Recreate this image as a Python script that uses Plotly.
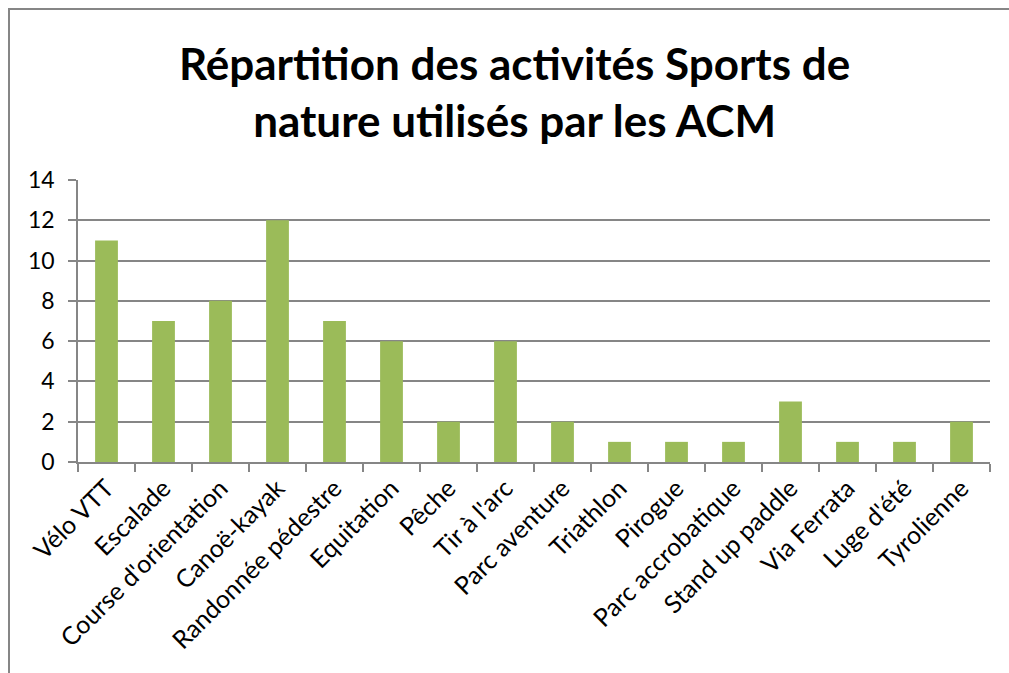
import plotly.graph_objects as go

# Activités de sports de nature et nombre d'ACM qui les utilisent
activites = [
    "Vélo VTT", "Escalade", "Course d'orientation", "Canoë-kayak",
    "Randonnée pédestre", "Equitation", "Pêche", "Tir à l'arc",
    "Parc aventure", "Triathlon", "Pirogue", "Parc accrobatique",
    "Stand up paddle", "Via Ferrata", "Luge d'été", "Tyrolienne",
]
nombre_acm = [11, 7, 8, 12, 7, 6, 2, 6, 2, 1, 1, 1, 3, 1, 1, 2]

y_ticks = [0, 2, 4, 6, 8, 10, 12, 14]

FONT = "Lato, Calibri, 'Open Sans', sans-serif"
GRIS = "#868686"
VERT = "#9BBB59"

W, H = 1009, 673
ML, MR, MT, MB = 78, 19, 180, 211
PW, PH = W - ML - MR, H - MT - MB

fig = go.Figure(
    go.Bar(
        x=activites,
        y=nombre_acm,
        marker=dict(color=VERT, line=dict(width=0)),
        width=0.4,
        hoverinfo="x+y",
    )
)

fig.update_layout(
    width=W,
    height=H,
    margin=dict(l=ML, r=MR, t=MT, b=MB, pad=0),
    paper_bgcolor="white",
    plot_bgcolor="white",
    showlegend=False,
    font=dict(family=FONT, color="black", size=22),
    title=dict(
        text="<b>Répartition des activités Sports de<br>nature utilisés par les ACM</b>",
        font=dict(family=FONT, size=44, color="black"),
        xref="container",
        x=0.51,
        xanchor="center",
        yref="container",
        y=1 - 80 / H,
        yanchor="middle",
    ),
    xaxis=dict(
        showline=True,
        linecolor=GRIS,
        linewidth=1.5,
        ticks="outside",
        tickson="boundaries",
        ticklen=8,
        tickcolor=GRIS,
        tickwidth=1.5,
        tickangle=-45,
        tickfont=dict(family=FONT, size=25, color="black"),
        showgrid=False,
        fixedrange=True,
    ),
    yaxis=dict(
        range=[0, 14],
        tickvals=y_ticks,
        showline=True,
        linecolor=GRIS,
        linewidth=1.5,
        ticks="outside",
        ticklen=8,
        tickcolor=GRIS,
        tickwidth=1.5,
        ticklabelstandoff=9,
        showgrid=True,
        gridcolor=GRIS,
        gridwidth=1.5,
        zeroline=False,
        tickfont=dict(family=FONT, size=23, color="black"),
        fixedrange=True,
    ),
    shapes=[
        # cadre gris du graphique (bords haut et gauche visibles)
        dict(
            type="rect",
            xref="paper",
            yref="paper",
            x0=(9 - ML) / PW,
            x1=(W + 40 - ML) / PW,
            y0=-(H + 40 - (MT + PH)) / PH,
            y1=(MT + PH - 9) / PH,
            line=dict(color=GRIS, width=2),
            layer="below",
        )
    ],
)

fig.write_html("out.html")
